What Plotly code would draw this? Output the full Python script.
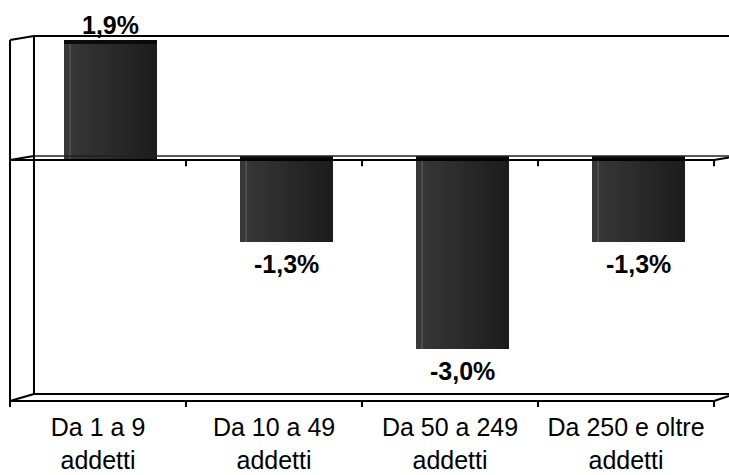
import plotly.graph_objects as go

# --- data -------------------------------------------------------------
categorie = ["Da 1 a 9<br>addetti", "Da 10 a 49<br>addetti",
             "Da 50 a 249<br>addetti", "Da 250 e oltre<br>addetti"]
variazioni = [1.9, -1.3, -3.0, -1.3]   # variazione % per classe di addetti

posizioni = list(range(len(categorie)))
etichette = [f"{v:.1f}%".replace(".", ",") for v in variazioni]

# --- geometry (axis units) ---------------------------------------------
X_MIN, X_MAX = -0.557, 3.585
Y_MIN, Y_MAX = -3.921, 2.54
FRONT_L, FRONT_R = -0.5, 3.5
Y_TOP, Y_BOT = 1.905, -3.825
DX, DY, DY_FLOOR = 0.136, 0.0635, 0.111
BAR_SHIFT, BAR_W = 0.071, 0.528

fig = go.Figure()

# bars drawn as vertical slices to give a cylinder-like shading
N = 24
c0, c1 = (56, 56, 56), (28, 28, 28)
for k in range(N):
    t = k / (N - 1)
    col = tuple(round(a + (b - a) * t) for a, b in zip(c0, c1))
    fig.add_trace(go.Bar(
        x=posizioni, y=variazioni,
        offset=BAR_SHIFT - BAR_W / 2 + k * BAR_W / N,
        width=BAR_W / N * 1.05,
        marker=dict(color="rgb(%d,%d,%d)" % col, line=dict(width=0)),
        hoverinfo="skip", showlegend=False))

# thin highlight near the left edge
fig.add_trace(go.Bar(
    x=posizioni, y=variazioni,
    offset=BAR_SHIFT - BAR_W / 2 + 0.032, width=0.007,
    marker=dict(color="#4e4e4e", line=dict(width=0)),
    hoverinfo="skip", showlegend=False))

# top face of each bar
cap_h = 0.065
fig.add_trace(go.Bar(
    x=posizioni,
    y=[cap_h] * len(variazioni),
    base=[v - cap_h if v > 0 else 0 for v in variazioni],
    offset=BAR_SHIFT - BAR_W / 2, width=BAR_W,
    marker=dict(color="#0a0a0a", line=dict(width=0)),
    hoverinfo="skip", showlegend=False))

# value labels
for x, v, txt in zip(posizioni, variazioni, etichette):
    fig.add_annotation(
        x=x + BAR_SHIFT, y=v, xref="x", yref="y",
        text=f"<b>{txt}</b>", showarrow=False,
        yanchor="bottom" if v > 0 else "top",
        yshift=-1 if v > 0 else -6,
        font=dict(family="Liberation Sans, Arial", size=25, color="black"))

# 3D frame: back wall, floor edges and category axis at zero
line = dict(color="black", width=2)
thin = dict(color="#222222", width=1.5)
shapes = [
    # front left edge
    dict(type="line", x0=FRONT_L, x1=FRONT_L, y0=Y_BOT - 0.1, y1=Y_TOP, line=line),
    # back left edge
    dict(type="line", x0=FRONT_L + DX, x1=FRONT_L + DX, y0=Y_BOT + DY_FLOOR, y1=Y_TOP + DY, line=line),
    # top-left depth edge and back top edge
    dict(type="line", x0=FRONT_L, x1=FRONT_L + DX, y0=Y_TOP, y1=Y_TOP + DY, line=line),
    dict(type="line", x0=FRONT_L + DX, x1=X_MAX, y0=Y_TOP + DY, y1=Y_TOP + DY, line=line),
    # floor
    dict(type="line", x0=FRONT_L, x1=FRONT_R, y0=Y_BOT, y1=Y_BOT, line=line),
    dict(type="line", x0=FRONT_L, x1=FRONT_L + DX, y0=Y_BOT, y1=Y_BOT + DY_FLOOR, line=line),
    dict(type="line", x0=FRONT_L + DX, x1=X_MAX, y0=Y_BOT + DY_FLOOR, y1=Y_BOT + DY_FLOOR, line=line),
    dict(type="line", x0=FRONT_R, x1=X_MAX, y0=Y_BOT, y1=Y_BOT + DY_FLOOR * 0.7, line=line),
    # zero plane
    dict(type="line", x0=FRONT_L + DX, x1=X_MAX, y0=DY, y1=DY, line=thin),
    dict(type="line", x0=FRONT_L, x1=FRONT_L + DX, y0=0, y1=DY, line=line),
    dict(type="line", x0=FRONT_L, x1=FRONT_R, y0=0, y1=0, line=line),
    dict(type="line", x0=FRONT_R, x1=X_MAX, y0=0, y1=DY * 0.6, line=line),
]
for b in [p + 0.5 for p in posizioni]:
    shapes.append(dict(type="line", x0=b, x1=b, y0=0, y1=-0.1, line=line))
    shapes.append(dict(type="line", x0=b, x1=b, y0=Y_BOT, y1=Y_BOT - 0.1, line=line))

fig.update_layout(
    width=729, height=475,
    margin=dict(l=0, r=0, t=0, b=68),
    paper_bgcolor="white", plot_bgcolor="white",
    barmode="overlay", bargap=0,
    shapes=[dict(s, xref="x", yref="y", layer="above") for s in shapes],
    font=dict(family="Liberation Sans, Arial", color="black"),
    xaxis=dict(range=[X_MIN, X_MAX], tickvals=posizioni, ticktext=categorie,
               showgrid=False, zeroline=False, showline=False, ticks="",
               tickfont=dict(size=25, color="black"), ticklabelstandoff=3),
    yaxis=dict(range=[Y_MIN, Y_MAX], visible=False, showgrid=False, zeroline=False),
)

fig.write_html("out.html")
